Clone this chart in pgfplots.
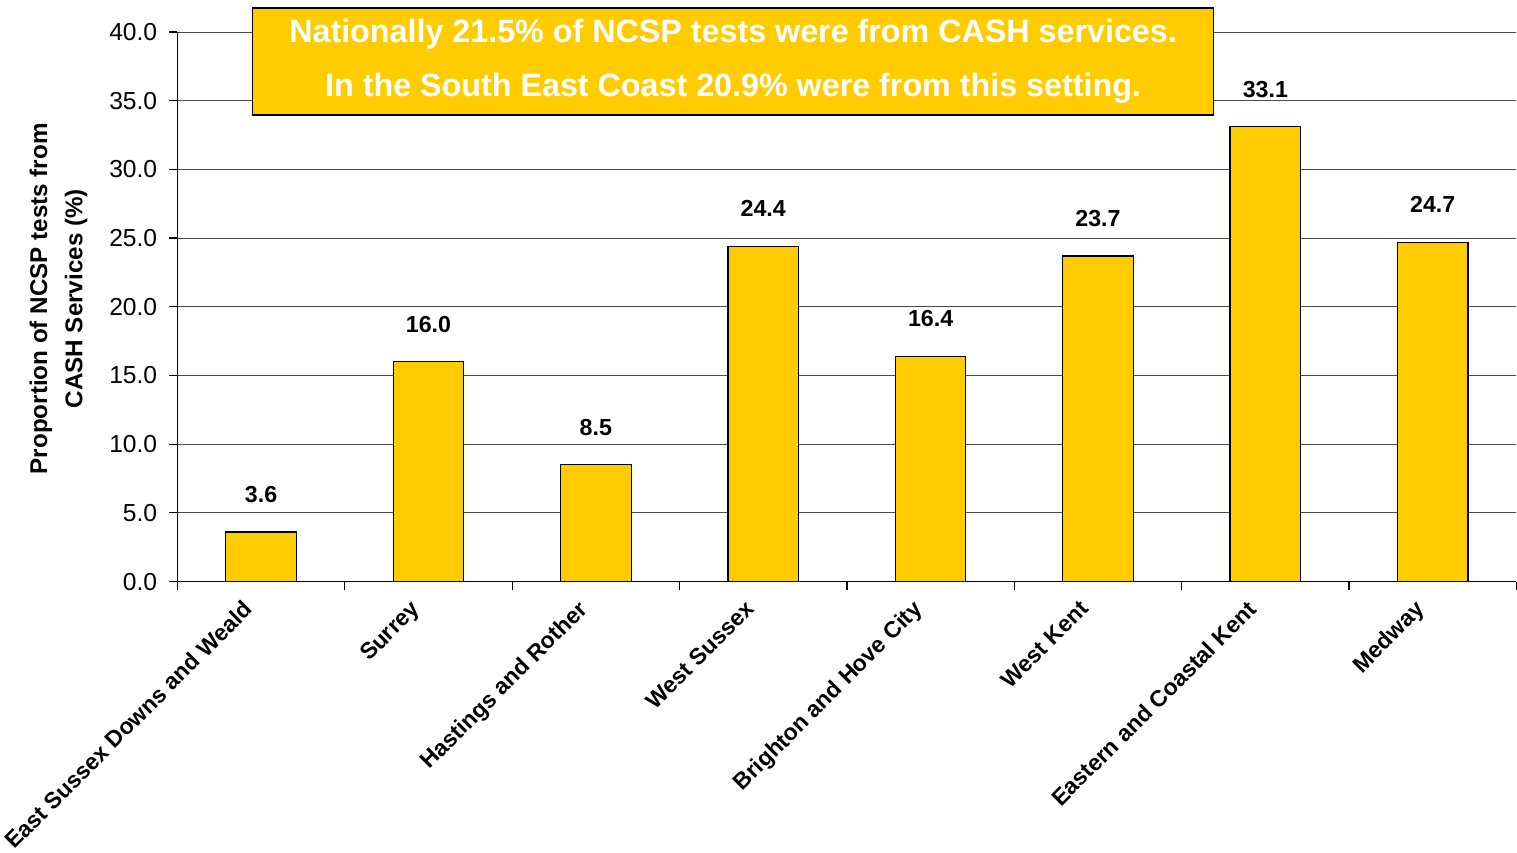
\documentclass[border=0pt]{standalone}
\usepackage{pgfplots}
\pgfplotsset{compat=1.18}
\usepackage{fontspec}
\setmainfont{Liberation Sans}
\definecolor{baryel}{HTML}{FFCC00}
\begin{document}
\begin{tikzpicture}
\begin{axis}[
  scale only axis,
  width=664pt, height=272.5pt,
  xmin=0, xmax=8, ymin=0, ymax=40,
  axis x line*=bottom, axis y line*=left,
  axis line style={black, line width=0.6pt},
  xtick={0.5,1.5,...,7.5},
  xticklabels={East Sussex Downs and Weald, Surrey, Hastings and Rother, West Sussex, Brighton and Hove City, West Kent, Eastern and Coastal Kent, Medway},
  major x tick style={draw=none},
  minor xtick={0,1,...,8},
  minor tick length=4pt,
  tick align=outside,
  ytick={0,5,...,40},
  major tick length=4pt,
  tick style={black, line width=0.6pt},
  ymajorgrids,
  grid style={gray!60!black, line width=0.5pt},
  /pgf/number format/assume math mode=true,
  yticklabel style={/pgf/number format/.cd, fixed, fixed zerofill, precision=1, /tikz/.cd, font=\fontsize{12.2}{14}\selectfont, xshift=-2.5pt},
  xticklabel style={font=\bfseries\fontsize{11.4}{13}\selectfont, inner sep=1pt, xshift=-9.5pt, yshift=-3pt, rotate=45, anchor=north east},
  ylabel={Proportion of NCSP tests from\\CASH Services (\%)},
  ylabel style={align=center, font=\bfseries\fontsize{12}{17.5}\selectfont, yshift=4pt, xshift=4pt},
  ybar, bar width=35pt,
  bar shift=0pt,
  clip=false,
  nodes near coords,
  nodes near coords style={/pgf/number format/.cd, fixed, fixed zerofill, precision=1, /tikz/.cd, font=\bfseries\fontsize{11.5}{13}\selectfont, yshift=11pt},
]
\addplot[fill=baryel, draw=black, line width=0.6pt] coordinates {
 (0.5,3.6) (1.5,16.0) (2.5,8.5) (3.5,24.4) (4.5,16.4) (5.5,23.7) (6.5,33.1) (7.5,24.7)
};
\node[fill=baryel, draw=black, line width=0.8pt, minimum width=476.5pt, minimum height=53pt, inner sep=0pt,
  text=white, font=\bfseries\fontsize{16}{26.5}\selectfont, align=center]
  at (axis cs:3.32,37.87) {Nationally 21.5\% of NCSP tests were from CASH services.\\In the South East Coast 20.9\% were from this setting.};
\end{axis}
\path ([yshift=3.5pt]current bounding box.north);
\end{tikzpicture}
\end{document}
